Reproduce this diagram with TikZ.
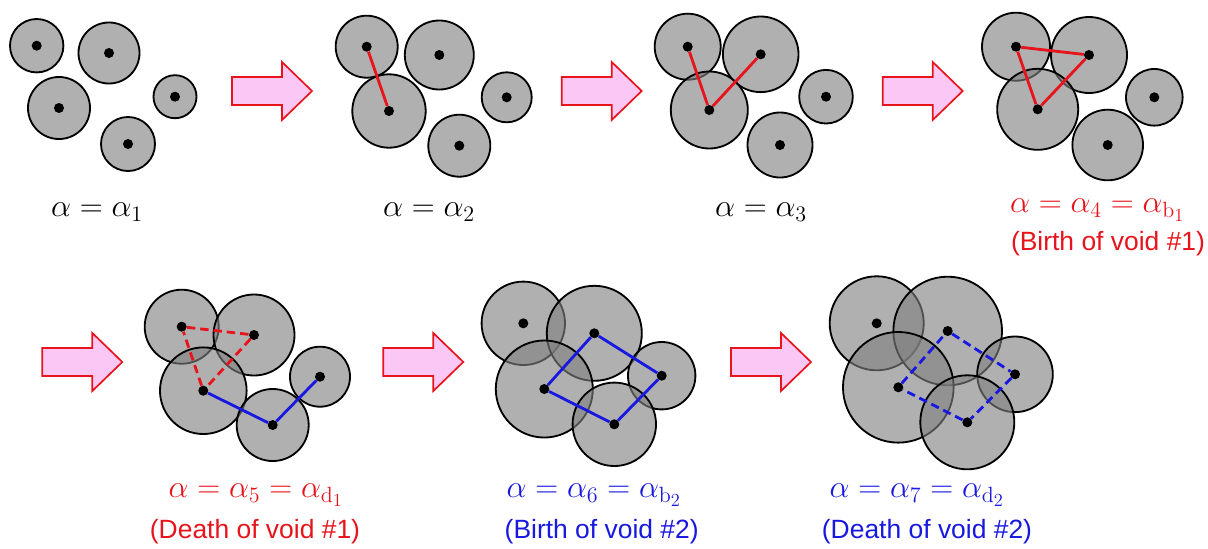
\documentclass[tikz,border=0pt]{standalone}
\usepackage[no-math]{fontspec}
\setmainfont{Liberation Sans}
\usetikzlibrary{backgrounds}
\definecolor{cred}{HTML}{E8141C}
\definecolor{cblue}{HTML}{1818E0}
\definecolor{cpink}{HTML}{FBC8F6}
\tikzset{
  every picture/.style={x=0.025cm, y=-0.025cm},
  ball/.style={circle, draw=black, line width=1.3pt, fill=gray, fill opacity=0.62, inner sep=0pt},
  ctr/.style={circle, fill=black, inner sep=0pt, minimum size=0.25cm},
  bond/.style={line width=2pt},
  gone/.style={bond, dash pattern=on 6pt off 3.5pt},
  lbl/.style={font=\fontsize{20.74}{25}\selectfont, inner sep=0pt},
  note/.style={font=\fontsize{18.8}{22}\selectfont, inner sep=0pt},
  fat/.style={draw=cred, fill=cpink, line width=1.2pt, line join=miter},
}
% ball: name, x, y, radius (all in px of the reference)
\newcommand{\ball}[4]{%
  \begin{scope}[on background layer]
    \node[ball, minimum size=#4*0.05cm] (#1o) at (#2,#3) {};
  \end{scope}
  \node[ctr] (#1) at (#2,#3) {};}
% fat arrow: left x, middle y
\newcommand{\fatarrow}[2]{%
  \draw[fat] (#1,#2-14) -- ++(50,0) -- ++(0,-15) -- ++(30,29) -- ++(-30,29) -- ++(0,-15) -- ++(-50,0) -- cycle;}
% the math labels are set a little larger than the cm sizes allow
\newcommand{\amath}[1]{\scalebox{1.09}{$#1$}}

\begin{document}
\begin{tikzpicture}
  \useasboundingbox (0,0) rectangle (1208,548);

  % alpha 1
  \ball{a1}{36.7}{45.7}{26.7}
  \ball{a2}{109}{53}{30.5}
  \ball{a3}{59}{108}{31}
  \ball{a4}{175}{96.7}{21.5}
  \ball{a5}{128}{144}{27}
  \node[lbl] (l1) at (97,212) {\amath{\alpha=\alpha_1}};
  \fatarrow{232}{91}

  % alpha 2
  \ball{b1}{366.7}{46.7}{31}
  \ball{b2}{439.3}{55}{34.5}
  \ball{b3}{389}{111}{36.7}
  \ball{b4}{506.7}{97.3}{25}
  \ball{b5}{459.3}{145.7}{31}
  \draw[bond, cred] (b1) -- (b3);
  \node[lbl] (l2) at (429,212) {\amath{\alpha=\alpha_2}};
  \fatarrow{561.7}{91}

  % alpha 3
  \ball{c1}{687.7}{46.7}{33}
  \ball{c2}{760.7}{54.3}{37.8}
  \ball{c3}{709.3}{110}{38.5}
  \ball{c4}{826}{96.7}{26.8}
  \ball{c5}{780}{145}{32.5}
  \draw[bond, cred] (c1) -- (c3);
  \draw[bond, cred] (c3) -- (c2);
  \node[lbl] (l3) at (761,212) {\amath{\alpha=\alpha_3}};
  \fatarrow{882.7}{91}

  % alpha 4: void 1 is born
  \ball{d1}{1016}{46.7}{34}
  \ball{d2}{1089}{55}{38}
  \ball{d3}{1037.7}{109.3}{40.5}
  \ball{d4}{1154.3}{97.3}{28.3}
  \ball{d5}{1107.7}{145}{35.3}
  \draw[bond, cred] (d1) -- (d2);
  \draw[bond, cred] (d2) -- (d3);
  \draw[bond, cred] (d3) -- (d1);
  \node[lbl, text=cred] (l4) at (1097.5,210) {\amath{\alpha=\alpha_4=\alpha_{\mathrm{b}_1}}};
  \node[note, text=cred] (t4) at (1108,244) {(Birth of void \#1)};

  % alpha 5: void 1 dies
  \fatarrow{42.3}{362}
  \ball{e1}{181.7}{326.7}{37}
  \ball{e2}{254}{335}{40.5}
  \ball{e3}{203.3}{390.7}{43.3}
  \ball{e4}{320}{376.7}{30}
  \ball{e5}{272.7}{425}{36}
  \draw[gone, cred] (e1) -- (e2);
  \draw[gone, cred] (e2) -- (e3);
  \draw[gone, cred] (e3) -- (e1);
  \draw[bond, cblue] (e3) -- (e5);
  \draw[bond, cblue] (e5) -- (e4);
  \node[lbl, text=cred] (l5) at (256,495) {\amath{\alpha=\alpha_5=\alpha_{\mathrm{d}_1}}};
  \node[note, text=cred] (t5) at (255,532) {(Death of void \#1)};

  % alpha 6: void 2 is born
  \fatarrow{383.3}{362}
  \ball{f1}{523.3}{323.3}{41.7}
  \ball{f2}{594.3}{333.3}{47.5}
  \ball{f3}{544.3}{389}{48.5}
  \ball{f4}{661.7}{375.7}{33.7}
  \ball{f5}{614.3}{424.3}{41.7}
  \draw[bond, cblue] (f3) -- (f2);
  \draw[bond, cblue] (f2) -- (f4);
  \draw[bond, cblue] (f4) -- (f5);
  \draw[bond, cblue] (f5) -- (f3);
  \node[lbl, text=cblue] (l6) at (594,495) {\amath{\alpha=\alpha_6=\alpha_{\mathrm{b}_2}}};
  \node[note, text=cblue] (t6) at (601.7,532) {(Birth of void \#2)};

  % alpha 7: void 2 dies
  \fatarrow{731}{362}
  \ball{g1}{876.7}{323.3}{47}
  \ball{g2}{947.7}{331}{54.3}
  \ball{g3}{898.3}{387.3}{55.3}
  \ball{g4}{1015}{374.3}{37.8}
  \ball{g5}{967.3}{422.3}{47}
  \draw[gone, cblue] (g3) -- (g2);
  \draw[gone, cblue] (g2) -- (g4);
  \draw[gone, cblue] (g4) -- (g5);
  \draw[gone, cblue] (g5) -- (g3);
  \node[lbl, text=cblue] (l7) at (917,495) {\amath{\alpha=\alpha_7=\alpha_{\mathrm{d}_2}}};
  \node[note, text=cblue] (t7) at (927,532) {(Death of void \#2)};
\end{tikzpicture}
\end{document}
